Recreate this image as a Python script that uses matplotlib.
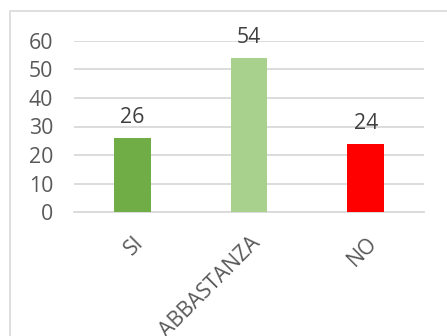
import matplotlib
matplotlib.use("Agg")
import matplotlib.pyplot as plt
from matplotlib.patches import Rectangle
from matplotlib.transforms import ScaledTranslation

categories = ["SI", "ABBASTANZA", "NO"]
values = [26, 54, 24]
colors = ["#70AD47", "#A9D18E", "#FF0000"]
yticks = [0, 10, 20, 30, 40, 50, 60]

plt.rcParams['font.family'] = ['Open Sans', 'DejaVu Sans']

fig = plt.figure(figsize=(4.47, 3.36), dpi=100)
fig.patches.append(Rectangle((10/447, -0.1), 1.2, 1 - 11/336 + 0.1,
                             transform=fig.transFigure, fill=False,
                             edgecolor="#D9D9D9", linewidth=1.2))
ax = fig.add_axes([74/447, 1 - 212.3/336, 350/447, (212.3 - 40.7)/336])
x = list(range(len(categories)))
bars = ax.bar(x, values, width=0.317, color=colors, zorder=3)
ax.set_xlim(-0.5, 2.5)
ax.set_ylim(0, 60)
ax.set_yticks(yticks)
ax.yaxis.grid(True, color="#D9D9D9", linewidth=1.3, zorder=0)
for s in ["left", "right", "top"]:
    ax.spines[s].set_visible(False)
ax.spines["bottom"].set_color("#D9D9D9")
ax.spines["bottom"].set_linewidth(1.3)
ax.tick_params(axis="both", length=0, labelsize=15.3, labelcolor="#595959")
ax.tick_params(axis="y", pad=15)
ax.set_xticks(x)
ax.set_xticklabels(categories, rotation=45, ha="right", va="center",
                   rotation_mode="anchor")
ax.tick_params(axis="x", pad=20)
offset = ScaledTranslation(8/100, 0, fig.dpi_scale_trans)
for lbl in ax.get_xticklabels():
    lbl.set_transform(lbl.get_transform() + offset)
for xi, v in zip(x, values):
    ax.annotate(str(v), (xi, v), xytext=(0, 7), textcoords="offset points",
                ha="center", va="bottom", fontsize=15.3, color="#404040")
fig.savefig("out.png", dpi=100)
